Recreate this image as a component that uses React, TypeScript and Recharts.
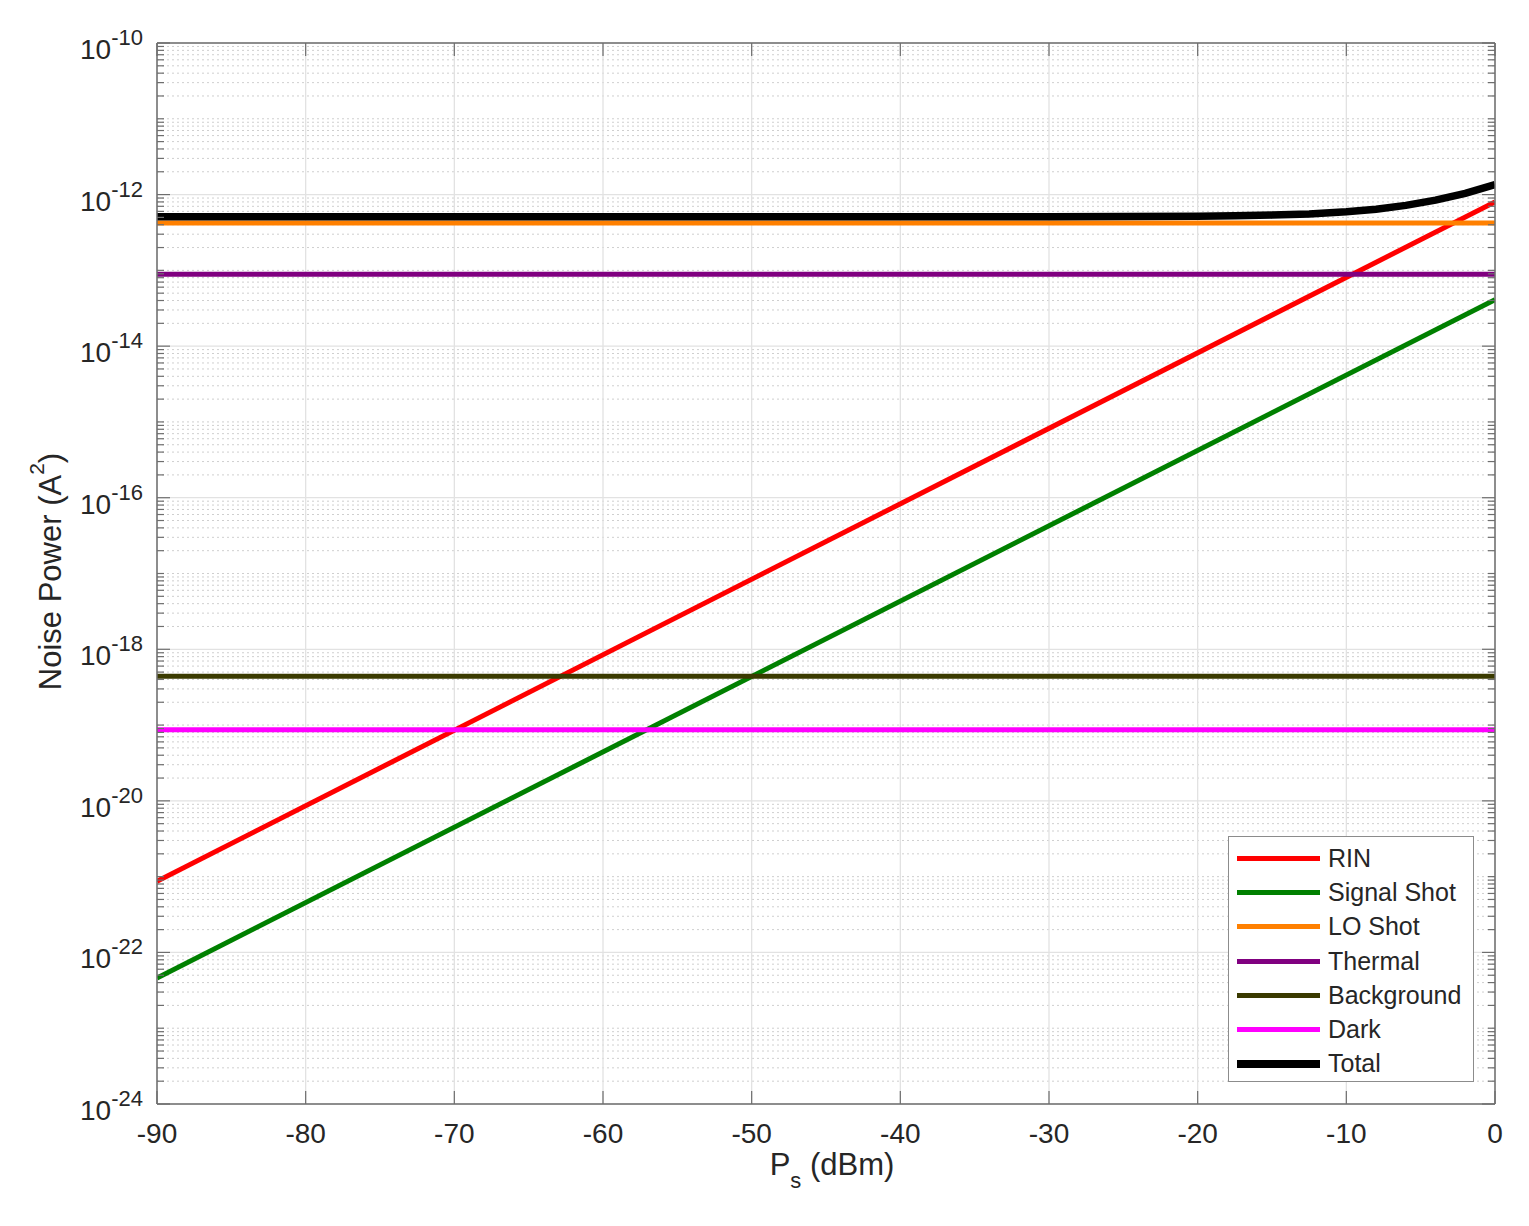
import React from 'react'
import { LineChart, Line, XAxis, YAxis, ReferenceLine, Legend } from 'recharts'

const FONT = '"Liberation Sans", Arial, Helvetica, sans-serif'
const TEXT = '#262626'
const BOX = '#6e6e6e'

// signal power (dBm)
const psEnds = [-90, 0]
const totalPs = [-90, -60, -40, -30, -25, -20, -17.5, -15, -12.5, -10, -8, -6, -4, -2, 0]

// noise power (A^2)
const rinPower = [8.7e-22, 8.0e-13]
const signalShotPower = [4.6e-23, 4.1e-14]
const loShotPower = [4.2e-13, 4.2e-13]
const thermalPower = [8.9e-14, 8.9e-14]
const backgroundPower = [4.4e-19, 4.4e-19]
const darkPower = [8.7e-20, 8.7e-20]
const totalPower = [
  5.09e-13, 5.09e-13, 5.09e-13, 5.1e-13, 5.12e-13, 5.17e-13, 5.24e-13, 5.36e-13,
  5.56e-13, 5.93e-13, 6.42e-13, 7.2e-13, 8.43e-13, 1.04e-12, 1.35e-12,
]

const xTicks = [-90, -80, -70, -60, -50, -40, -30, -20, -10, 0]
const yExponents = [-24, -23, -22, -21, -20, -19, -18, -17, -16, -15, -14, -13, -12, -11, -10]
const yLabelExponents = [-24, -22, -20, -18, -16, -14, -12, -10]
const minorMultipliers = [2, 3, 4, 5, 6, 7, 8, 9]

const toPoints = (xs: number[], ys: number[]) => xs.map((x, i) => ({ x, y: ys[i] }))

const series = [
  { name: 'RIN', color: '#ff0000', width: 5, data: toPoints(psEnds, rinPower) },
  { name: 'Signal Shot', color: '#008000', width: 5, data: toPoints(psEnds, signalShotPower) },
  { name: 'LO Shot', color: '#ff8000', width: 5, data: toPoints(psEnds, loShotPower) },
  { name: 'Thermal', color: '#800080', width: 5, data: toPoints(psEnds, thermalPower) },
  { name: 'Background', color: '#3a3a00', width: 5, data: toPoints(psEnds, backgroundPower) },
  { name: 'Dark', color: '#ff00ff', width: 5, data: toPoints(psEnds, darkPower) },
  { name: 'Total', color: '#000000', width: 7.5, data: toPoints(totalPs, totalPower) },
]

const decadeValues = yExponents.map(e => Math.pow(10, e))
const minorValues = yExponents.slice(0, -1).flatMap(e => minorMultipliers.map(m => m * Math.pow(10, e)))
const allYTicks = [...decadeValues, ...minorValues].sort((a, b) => a - b)

function tickInfo(v: number) {
  const exp = Math.floor(Math.log10(v) + 1e-9)
  const isDecade = Math.abs(v / Math.pow(10, exp) - 1) < 1e-6
  const labelled = isDecade && yLabelExponents.includes(exp)
  return { exp, labelled, len: labelled ? 13 : 7 }
}

const LeftTick = (props: any) => {
  const { x, y, payload } = props
  const { exp, labelled, len } = tickInfo(payload.value)
  return (
    <g>
      <line x1={x} x2={x + len} y1={y} y2={y} stroke={BOX} strokeWidth={1.2} />
      {labelled && (
        <text x={x - 14} y={y + 16} textAnchor="end" fontFamily={FONT} fill={TEXT}>
          <tspan fontSize={28}>10</tspan>
          <tspan fontSize={22} dy={-14}>{String(exp)}</tspan>
        </text>
      )}
    </g>
  )
}

const RightTick = (props: any) => {
  const { x, y, payload } = props
  const { len } = tickInfo(payload.value)
  return <line x1={x} x2={x - len} y1={y} y2={y} stroke={BOX} strokeWidth={1.2} />
}

const BottomTick = (props: any) => {
  const { x, y, payload } = props
  return (
    <g>
      <line x1={x} x2={x} y1={y} y2={y - 13} stroke={BOX} strokeWidth={1.2} />
      <text x={x} y={y + 39} textAnchor="middle" fontFamily={FONT} fontSize={28} fill={TEXT}>
        {payload.value}
      </text>
    </g>
  )
}

const TopTick = (props: any) => {
  const { x, y } = props
  return <line x1={x} x2={x} y1={y} y2={y + 13} stroke={BOX} strokeWidth={1.2} />
}

const YTitle = (props: any) => {
  const vb = props.viewBox
  const cx = vb.x + 42
  const cy = vb.y + vb.height / 2 - 2
  return (
    <text
      x={cx}
      y={cy}
      transform={`rotate(-90 ${cx} ${cy})`}
      textAnchor="middle"
      dominantBaseline="central"
      fontFamily={FONT}
      fill={TEXT}
    >
      <tspan fontSize={31}>Noise Power (A</tspan>
      <tspan fontSize={21} dy={-14}>2</tspan>
      <tspan fontSize={31} dy={14}>)</tspan>
    </text>
  )
}

const XTitle = (props: any) => {
  const vb = props.viewBox
  return (
    <text x={vb.x + vb.width / 2 + 6} y={vb.y + 71} textAnchor="middle" fontFamily={FONT} fill={TEXT}>
      <tspan fontSize={31}>P</tspan>
      <tspan fontSize={22} dy={13}>s</tspan>
      <tspan fontSize={31} dy={-13}> (dBm)</tspan>
    </text>
  )
}

const LegendBox = () => (
  <div
    style={{
      border: '1.5px solid #8c8c8c',
      background: '#fff',
      width: 246,
      height: 246,
      boxSizing: 'border-box',
      paddingTop: 4,
      fontFamily: FONT,
    }}
  >
    {series.map(s => (
      <div key={s.name} style={{ display: 'flex', alignItems: 'center', height: 34.3 }}>
        <div style={{ marginLeft: 8, width: 83, height: s.width, background: s.color }} />
        <span style={{ marginLeft: 8, fontSize: 25, color: TEXT, whiteSpace: 'nowrap' }}>{s.name}</span>
      </div>
    ))}
  </div>
)

export default function App() {
  return (
    <div style={{ width: 1513, height: 1210, background: '#fff' }}>
      <LineChart width={1513} height={1210} margin={{ top: 34, right: 25, bottom: 0, left: 0 }}>
        <XAxis
          type="number"
          dataKey="x"
          domain={[-90, 0]}
          ticks={xTicks}
          interval={0}
          allowDataOverflow
          height={114}
          tickSize={0}
          tickMargin={0}
          tickLine={false}
          tick={<BottomTick />}
          axisLine={{ stroke: BOX, strokeWidth: 1.5 }}
          label={<XTitle />}
        />
        <XAxis
          xAxisId="top"
          orientation="top"
          type="number"
          dataKey="x"
          domain={[-90, 0]}
          ticks={xTicks}
          interval={0}
          allowDataOverflow
          height={1}
          tickSize={0}
          tickMargin={0}
          tickLine={false}
          tick={<TopTick />}
          axisLine={{ stroke: BOX, strokeWidth: 1.5 }}
        />
        <YAxis
          scale="log"
          type="number"
          domain={[1e-24, 1e-10]}
          ticks={allYTicks}
          interval={0}
          allowDataOverflow
          width={149}
          tickSize={0}
          tickMargin={0}
          tickLine={false}
          tick={<LeftTick />}
          axisLine={{ stroke: BOX, strokeWidth: 1.5 }}
          label={<YTitle />}
        />
        <YAxis
          yAxisId="right"
          orientation="right"
          scale="log"
          type="number"
          domain={[1e-24, 1e-10]}
          ticks={allYTicks}
          interval={0}
          allowDataOverflow
          width={1}
          tickSize={0}
          tickMargin={0}
          tickLine={false}
          tick={<RightTick />}
          axisLine={{ stroke: BOX, strokeWidth: 1.5 }}
        />
        {minorValues
          .concat(yExponents.filter(e => !yLabelExponents.includes(e)).map(e => Math.pow(10, e)))
          .map(v => (
            <ReferenceLine key={`m${v}`} y={v} stroke="#cfcfcf" strokeWidth={1} strokeDasharray="2 3" />
          ))}
        {yLabelExponents.map(e => (
          <ReferenceLine key={`M${e}`} y={Math.pow(10, e)} stroke="#e2e2e2" strokeWidth={1.3} />
        ))}
        {xTicks.map(t => (
          <ReferenceLine key={`x${t}`} x={t} stroke="#e2e2e2" strokeWidth={1.3} />
        ))}
        {series.map(s => (
          <Line
            key={s.name}
            data={s.data}
            dataKey="y"
            name={s.name}
            type="linear"
            stroke={s.color}
            strokeWidth={s.width}
            dot={false}
            activeDot={false}
            isAnimationActive={false}
          />
        ))}
        <Legend
          layout="vertical"
          align="center"
          verticalAlign="middle"
          content={<LegendBox />}
          wrapperStyle={{ position: 'absolute', left: 1220, top: 828, width: 'auto', height: 'auto' }}
        />
      </LineChart>
    </div>
  )
}
